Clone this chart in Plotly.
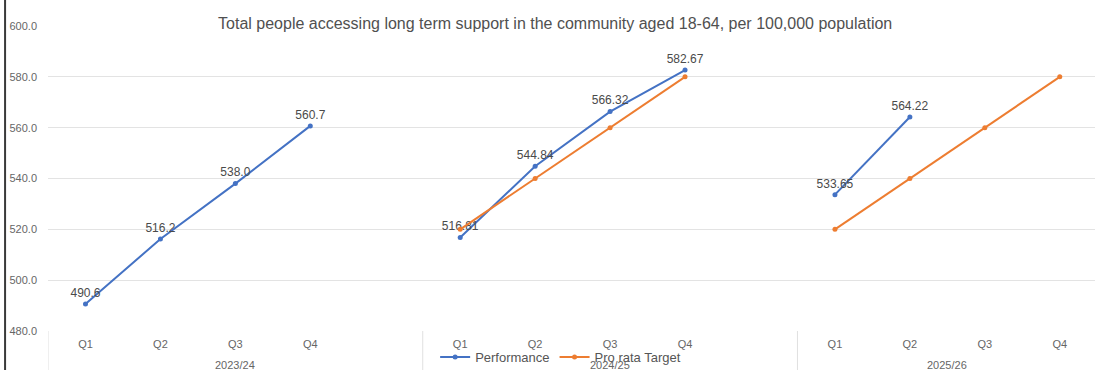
import plotly.graph_objects as go

# Category slots along the x axis: quarters per financial year, with a spacer
# slot after the first two years.
years = ["2023/24", "2024/25", "2025/26"]
quarters = ["Q1", "Q2", "Q3", "Q4"]
slots = [
    "2023/24 Q1", "2023/24 Q2", "2023/24 Q3", "2023/24 Q4", "gap1",
    "2024/25 Q1", "2024/25 Q2", "2024/25 Q3", "2024/25 Q4", "gap2",
    "2025/26 Q1", "2025/26 Q2", "2025/26 Q3", "2025/26 Q4",
]

performance_2324 = [490.6, 516.2, 538.0, 560.7]
performance_2425 = [516.81, 544.84, 566.32, 582.67]
performance_2526 = [533.65, 564.22, None, None]
target_2425 = [520, 540, 560, 580]
target_2526 = [520, 540, 560, 580]

y_ticks = [480, 500, 520, 540, 560, 580, 600]

BLUE = "#4472C4"
ORANGE = "#ED7D31"
FONT = "Liberation Sans, Arial, sans-serif"

perf_y = performance_2324 + [None] + performance_2425 + [None] + performance_2526
perf_text = (
    [f"{v:.1f}" for v in performance_2324] + [""]
    + [f"{v:.2f}" for v in performance_2425] + [""]
    + [f"{v:.2f}" if v is not None else "" for v in performance_2526]
)
target_y = [None] * 5 + target_2425 + [None] + target_2526

fig = go.Figure()
fig.add_trace(go.Scatter(
    x=slots, y=perf_y, name="Performance", mode="lines+markers+text",
    line=dict(color=BLUE, width=2), marker=dict(size=5, color=BLUE),
    text=perf_text, textposition="top center",
    textfont=dict(size=12, color="#4A4A4A", family=FONT),
))
fig.add_trace(go.Scatter(
    x=slots, y=target_y, name="Pro rata Target", mode="lines+markers",
    line=dict(color=ORANGE, width=2), marker=dict(size=5, color=ORANGE),
))

# Quarter tick labels under each real slot
tick_vals = [s for s in slots if not s.startswith("gap")]
tick_text = [s.split(" ")[1] for s in tick_vals]

fig.update_xaxes(
    type="category", categoryorder="array", categoryarray=slots,
    range=[-0.5, 13.47], tickvals=tick_vals, ticktext=tick_text,
    showgrid=False, zeroline=False, showline=False, ticks="",
    tickfont=dict(size=11, color="#666666", family=FONT),
    ticklabelstandoff=5,
)
fig.update_yaxes(
    range=[480, 600], tickvals=y_ticks, ticktext=[f"{v:.1f}" for v in y_ticks],
    showgrid=True, gridcolor="#E3E3E3", gridwidth=1, zeroline=False,
    showline=False, ticks="",
    tickfont=dict(size=11, color="#666666", family=FONT),
    ticklabelstandoff=10,
)

# Year group dividers and labels beneath the quarter labels
shapes = []
for xd in [-0.5, 4.5, 9.5]:
    shapes.append(dict(type="line", xref="x", yref="paper", x0=xd, x1=xd,
                       y0=0, y1=-0.2, line=dict(color="#E0E0E0", width=1)))
# left border line of the panel
shapes.append(dict(type="line", xref="paper", yref="paper", x0=-0.041, x1=-0.041,
                   y0=-0.2, y1=1.2, line=dict(color="#3A3A3A", width=2)))

annotations = []
for label, cx in zip(years, [2, 7, 11.5]):
    annotations.append(dict(
        x=cx, y=-34 / 305, xref="x", yref="paper", text=label, showarrow=False,
        font=dict(size=11, color="#666666", family=FONT), yanchor="middle",
    ))

fig.update_layout(
    width=1095, height=370,
    margin=dict(l=48, r=0, t=26, b=39, autoexpand=False),
    paper_bgcolor="white", plot_bgcolor="white",
    title=dict(
        text="Total people accessing long term support in the community aged 18-64, per 100,000 population",
        x=0.507, xref="container", xanchor="center",
        y=1 - 23 / 370, yref="container", yanchor="middle",
        font=dict(size=16, color="#505050", family=FONT),
    ),
    legend=dict(
        orientation="h", xref="container", yref="container",
        x=0.512, xanchor="center", y=1 - 357 / 370, yanchor="middle",
        font=dict(size=13, color="#555555", family=FONT),
        bgcolor="rgba(0,0,0,0)",
    ),
    shapes=shapes, annotations=annotations,
    showlegend=True,
)

fig.write_html("out.html")
